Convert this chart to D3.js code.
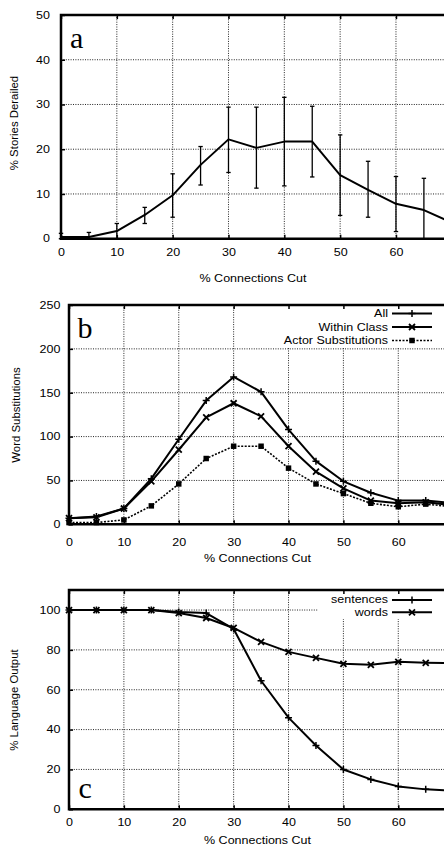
<!DOCTYPE html>
<html>
<head>
<meta charset="utf-8">
<script src="https://cdn.jsdelivr.net/npm/d3@7"></script>
<style>
  html, body { margin: 0; padding: 0; background: #fff; }
  svg { display: block; }
  text { font-family: 'Liberation Sans', Arial, sans-serif; fill: #000; }
</style>
</head>
<body>
<div id="chart"></div>
<script>
const cuts = [0, 5, 10, 15, 20, 25, 30, 35, 40, 45, 50, 55, 60, 65, 70]
const xTicks = [0, 10, 20, 30, 40, 50, 60]

// panel a: stories derailed, with error bars (bars read for 0..65)
const derailed = [0.4, 0.4, 1.7, 5.3, 9.7, 16.5, 22.2, 20.3, 21.7, 21.7, 14.2, 10.9, 7.8, 6.4, 3.6]
const derailedLow = [0, 0, 0, 3.4, 4.8, 12.0, 14.8, 11.3, 11.8, 13.8, 5.2, 4.8, 1.6, 0]
const derailedHigh = [1.2, 1.4, 3.4, 7.0, 14.5, 20.6, 29.4, 29.4, 31.6, 29.6, 23.2, 17.3, 13.9, 13.5]
const yTicksA = [0, 10, 20, 30, 40, 50]

// panel b: word substitutions
const subsAll = [7, 9, 18, 52, 97, 141, 168, 151, 108, 72, 49, 36, 27, 27, 24]
const subsWithin = [7, 8, 18, 49, 85, 122, 138, 123, 89, 60, 41, 27, 24, 25, 22]
const subsActor = [2, 2, 5, 21, 46, 75, 89, 89, 64, 46, 35, 24, 20, 23, 20]
const subsNames = ['All', 'Within Class', 'Actor Substitutions']
const yTicksB = [0, 50, 100, 150, 200, 250]

// panel c: language output
const sentencesOut = [100, 100, 100, 100, 99, 98.5, 90.5, 64.5, 46, 32, 20, 15, 11.5, 10, 9.3]
const wordsOut = [100, 100, 100, 100, 98.5, 96, 91, 84, 79, 76, 73, 72.5, 74, 73.5, 73.3]
const outputNames = ['sentences', 'words']
const yTicksC = [0, 20, 40, 60, 80, 100]

const width = 444
const height = 846
const stretch = 1.22 // the figure is wider than its fonts
const fontSize = 10.25

const plusPath = 'M-3.5,0H3.5M0,-3.5V3.5'
const timesPath = 'M-3,-3L3,3M-3,3L3,-3'
const squarePath = d3.symbol(d3.symbolSquare, 30)()

const svg = d3
  .select('#chart')
  .append('svg')
  .attr('width', width)
  .attr('height', height)

const flatText = (g, str, x, y, anchor = 'middle', size = fontSize) =>
  g
    .append('text')
    .attr('transform', `translate(${x},${y}) scale(${stretch},1)`)
    .attr('text-anchor', anchor)
    .style('font-size', `${size}px`)
    .text(str)

const drawPanel = cfg => {
  const g = svg.append('g')
  const x = d3.scaleLinear().domain([0, 70]).range([cfg.left, cfg.left + 7 * cfg.step])
  const y = d3.scaleLinear().domain(cfg.yDomain).range([cfg.bottom, cfg.top])
  const right = width + 20

  // dotted grid
  const grid = g.append('g').attr('stroke', '#222').attr('stroke-width', 1).attr('stroke-dasharray', '1,1.4')
  grid
    .selectAll('.vg')
    .data(xTicks.filter(d => d > 0))
    .enter()
    .append('line')
    .attr('x1', d => x(d))
    .attr('x2', d => x(d))
    .attr('y1', cfg.bottom)
    .attr('y2', cfg.top)
  grid
    .selectAll('.hg')
    .data(cfg.yTicks.filter(d => d > 0 && y(d) > cfg.top + 1))
    .enter()
    .append('line')
    .attr('x1', cfg.left)
    .attr('x2', right)
    .attr('y1', d => y(d))
    .attr('y2', d => y(d))

  if (cfg.legendBox) {
    const [bx, by, bw, bh] = cfg.legendBox
    g.append('rect').attr('x', bx).attr('y', by).attr('width', bw).attr('height', bh).attr('fill', '#fff')
  }

  // frame
  g.append('path')
    .attr('d', `M${right},${cfg.top}H${cfg.left}V${cfg.bottom}H${right}`)
    .attr('fill', 'none')
    .attr('stroke', '#000')
    .attr('stroke-width', 2.5)

  // inward ticks with labels
  const bottomAxis = g
    .append('g')
    .attr('transform', `translate(0,${cfg.bottom})`)
    .call(d3.axisBottom(x).tickValues(xTicks).tickSizeInner(-4).tickSizeOuter(0).tickPadding(cfg.xPad))
  const leftAxis = g
    .append('g')
    .attr('transform', `translate(${cfg.left},0)`)
    .call(d3.axisLeft(y).tickValues(cfg.yTicks).tickSizeInner(-4).tickSizeOuter(0).tickPadding(cfg.yPad))
  const topAxis = g
    .append('g')
    .attr('transform', `translate(0,${cfg.top})`)
    .call(d3.axisTop(x).tickValues(xTicks).tickSizeInner(-4).tickSizeOuter(0).tickFormat(''))

  ;[bottomAxis, leftAxis, topAxis].forEach(ax => {
    ax.select('.domain').remove()
    ax.selectAll('.tick line').attr('stroke-width', 1.5)
    ax.selectAll('text')
      .attr('transform', `scale(${stretch},1)`)
      .style('font-family', "'Liberation Sans', Arial, sans-serif")
      .style('font-size', `${fontSize}px`)
  })

  // axis titles
  flatText(g, '% Connections Cut', cfg.xTitle[0], cfg.xTitle[1])
  g.append('text')
    .attr('transform', `translate(${cfg.yTitle[0]},${cfg.yTitle[1]}) rotate(-90)`)
    .attr('text-anchor', 'middle')
    .style('font-size', '11.4px')
    .text(cfg.yLabel)

  // panel letter
  g.append('text')
    .attr('x', cfg.letter[0])
    .attr('y', cfg.letter[1])
    .style('font-family', "'Liberation Serif', 'Times New Roman', serif")
    .style('font-size', '30px')
    .text(cfg.letter[2])

  return { g, x, y }
}

const drawSeries = (g, x, y, values, style) => {
  const line = d3
    .line()
    .x((d, i) => x(cuts[i]))
    .y(d => y(d))
  g.append('path')
    .datum(values)
    .attr('d', line)
    .attr('fill', 'none')
    .attr('stroke', '#000')
    .attr('stroke-width', style.width)
    .attr('stroke-dasharray', style.dash || null)
    .attr('stroke-linejoin', 'round')
  if (style.marker) {
    g.append('g')
      .selectAll('path')
      .data(values)
      .enter()
      .append('path')
      .attr('transform', (d, i) => `translate(${x(cuts[i])},${y(d)})`)
      .attr('d', style.marker)
      .attr('fill', style.filled ? '#000' : 'none')
      .attr('stroke', style.filled ? 'none' : '#000')
      .attr('stroke-width', style.markerWidth || 1.4)
  }
}

const drawLegend = (g, names, styles, rows) => {
  names.forEach((name, i) => {
    const [base, lineY] = rows[i]
    flatText(g, name, 388, base, 'end')
    g.append('line')
      .attr('x1', 392)
      .attr('x2', 432)
      .attr('y1', lineY)
      .attr('y2', lineY)
      .attr('stroke', '#000')
      .attr('stroke-width', styles[i].width)
      .attr('stroke-dasharray', styles[i].dash || null)
    g.append('path')
      .attr('transform', `translate(412,${lineY})`)
      .attr('d', styles[i].marker)
      .attr('fill', styles[i].filled ? '#000' : 'none')
      .attr('stroke', styles[i].filled ? 'none' : '#000')
      .attr('stroke-width', styles[i].markerWidth || 1.4)
  })
}

// ---- panel a
const pa = drawPanel({
  left: 61,
  step: 55.83,
  top: 15,
  bottom: 238.7,
  yDomain: [0, 50],
  yTicks: yTicksA,
  xPad: 10,
  yPad: 9,
  xTitle: [253, 282],
  yTitle: [18.3, 123],
  yLabel: '% Stories Derailed',
  letter: [70, 48.3, 'a']
})

const bars = pa.g.append('g').attr('stroke', '#000').attr('stroke-width', 1.3)
derailedLow.forEach((lo, i) => {
  const cx = pa.x(cuts[i])
  const hi = derailedHigh[i]
  bars.append('line').attr('x1', cx).attr('x2', cx).attr('y1', pa.y(lo)).attr('y2', pa.y(hi))
  bars.append('line').attr('x1', cx - 2.2).attr('x2', cx + 2.2).attr('y1', pa.y(lo)).attr('y2', pa.y(lo))
  bars.append('line').attr('x1', cx - 2.2).attr('x2', cx + 2.2).attr('y1', pa.y(hi)).attr('y2', pa.y(hi))
})
drawSeries(pa.g, pa.x, pa.y, derailed, { width: 2 })

// ---- panel b
const pb = drawPanel({
  left: 69,
  step: 54.88,
  top: 305,
  bottom: 524.3,
  yDomain: [0, 250],
  yTicks: yTicksB,
  xPad: 14.5,
  yPad: 7,
  xTitle: [257.5, 561.5],
  yTitle: [20, 415],
  yLabel: 'Word Substitutions',
  letter: [77.5, 338.3, 'b'],
  legendBox: [276, 306.5, 200, 41]
})
const subsStyles = [
  { width: 2, marker: plusPath, markerWidth: 1.5 },
  { width: 2, marker: timesPath, markerWidth: 1.8 },
  { width: 1.6, dash: '2,1.5', marker: squarePath, filled: true }
]
drawSeries(pb.g, pb.x, pb.y, subsActor, subsStyles[2])
drawSeries(pb.g, pb.x, pb.y, subsWithin, subsStyles[1])
drawSeries(pb.g, pb.x, pb.y, subsAll, subsStyles[0])
drawLegend(pb.g, subsNames, subsStyles, [
  [317.3, 313.6],
  [330.7, 327],
  [344.2, 340.5]
])

// ---- panel c
const pc = drawPanel({
  left: 69,
  step: 54.88,
  top: 590.1,
  bottom: 809.3,
  yDomain: [0, 110],
  yTicks: yTicksC,
  xPad: 9.5,
  yPad: 7,
  xTitle: [257.5, 843.5],
  yTitle: [17.5, 700],
  yLabel: '% Language Output',
  letter: [78.5, 798, 'c'],
  legendBox: [318, 591.5, 140, 27.5]
})
const outStyles = [
  { width: 2, marker: plusPath, markerWidth: 1.5 },
  { width: 2, marker: timesPath, markerWidth: 1.8 }
]
drawSeries(pc.g, pc.x, pc.y, wordsOut, outStyles[1])
drawSeries(pc.g, pc.x, pc.y, sentencesOut, outStyles[0])
drawLegend(pc.g, outputNames, outStyles, [
  [603.3, 600],
  [615.7, 612.3]
])
</script>
</body>
</html>
